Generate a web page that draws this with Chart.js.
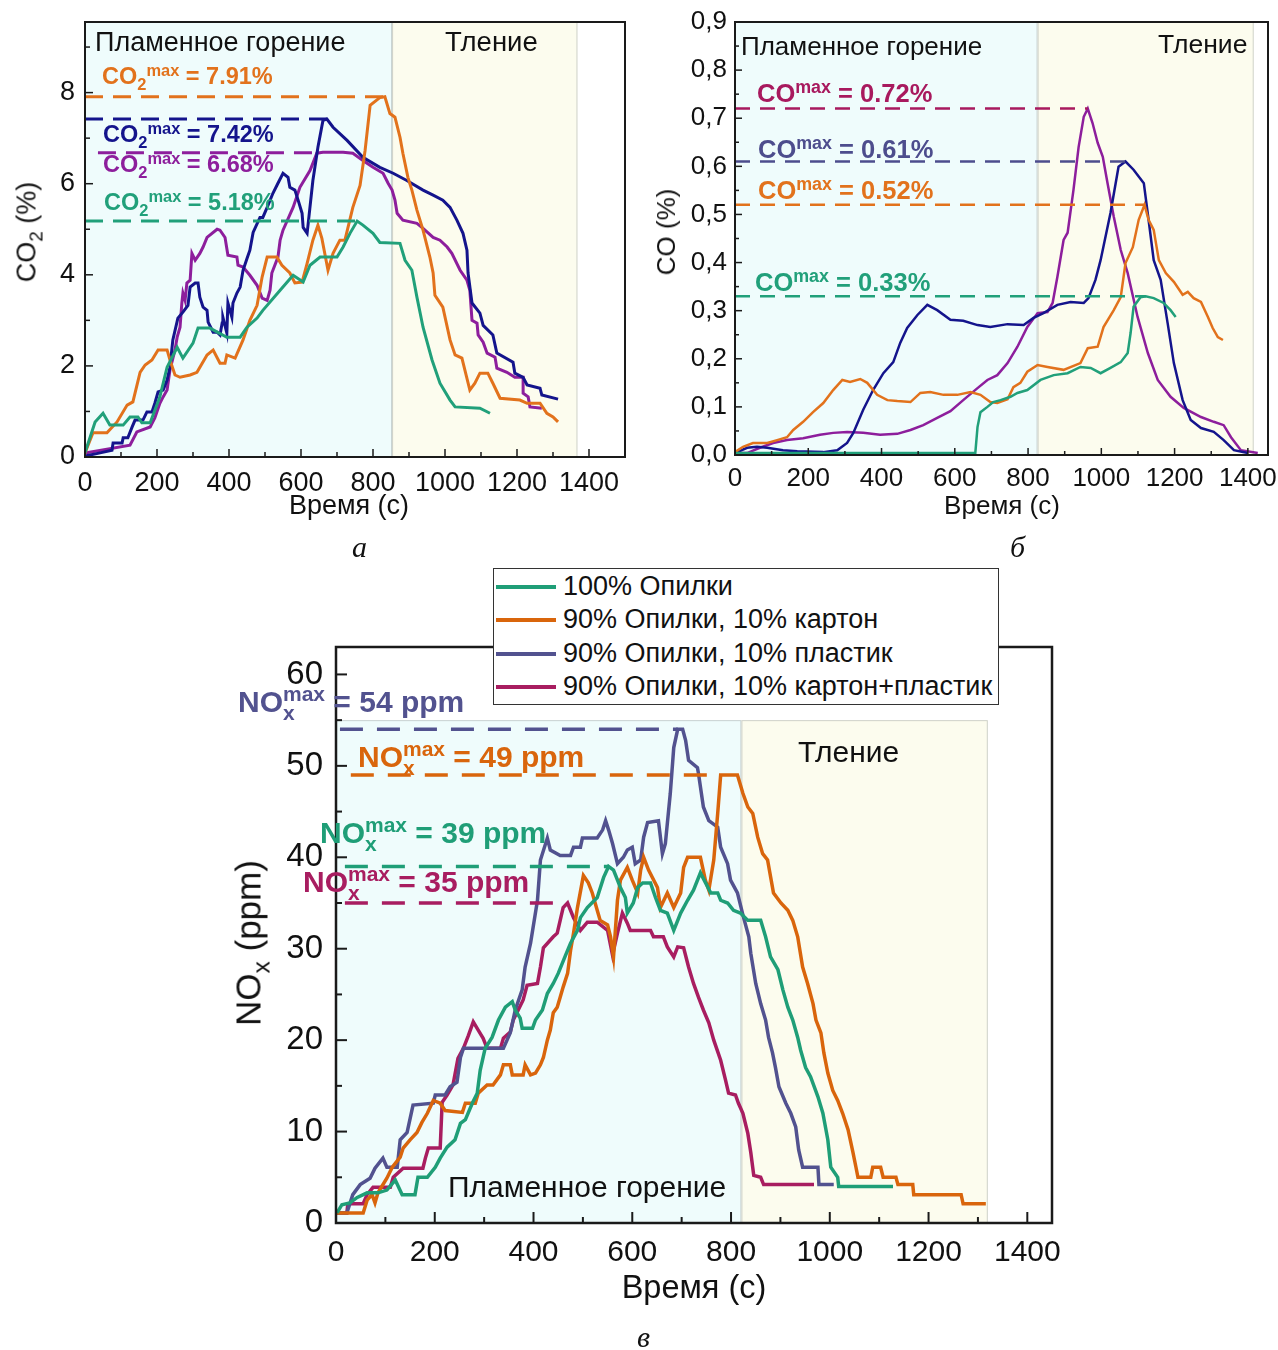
<!DOCTYPE html>
<html><head><meta charset="utf-8">
<script src="https://cdn.jsdelivr.net/npm/chart.js@4.4.1/dist/chart.umd.min.js"></script>
<style>
body{margin:0;background:#fff;width:1278px;height:1350px;position:relative;overflow:hidden;font-family:"Liberation Sans",Arial,sans-serif;}
canvas{position:absolute;}
.t{position:absolute;white-space:nowrap;}
.sp{position:relative;font-size:0.7em;}
</style></head><body>
<canvas id="ca" width="640" height="530" style="left:0;top:0"></canvas>
<canvas id="cb" width="628" height="530" style="left:650px;top:0"></canvas>
<canvas id="cc" width="1000" height="720" style="left:150px;top:560px"></canvas>
<script>
// ---------------- DATA ----------------
// Panel а: CO2 (%) vs time (s)
const aSawdust = [[0,0.09],[28,0.77],[50,0.96],[69,0.70],[106,0.70],[125,0.88],[147,0.88],[158,0.75],[181,0.75],[208,1.32],[228,1.97],[256,2.41],[272,2.17],[300,2.50],[314,2.83],[347,2.83],[394,2.63],[431,2.63],[450,2.85],[478,3.05],[494,3.22],[542,3.66],[578,3.99],[606,3.84],[625,4.21],[653,4.39],[700,4.39],[717,4.61],[736,4.91],[756,5.18],[772,5.09],[800,4.91],[819,4.71],[875,4.69],[889,4.32],[908,4.10],[922,3.51],[939,2.85],[964,2.13],[986,1.62],[1014,1.25],[1028,1.10],[1097,1.07],[1125,0.96]];
const aCardboard = [[0,0.09],[22,0.53],[61,0.53],[89,0.77],[117,1.14],[133,1.21],[153,1.86],[167,2.02],[186,2.13],[203,2.35],[228,2.35],[236,2.13],[250,1.80],[264,1.75],[292,1.80],[311,1.86],[339,2.24],[356,2.35],[375,2.06],[389,2.06],[394,2.24],[417,2.17],[439,2.57],[458,3.00],[478,3.33],[492,3.95],[506,4.39],[533,4.39],[547,4.21],[569,4.04],[583,3.82],[603,3.84],[617,4.25],[633,4.76],[647,5.09],[658,4.80],[675,4.10],[689,4.47],[708,4.76],[722,4.76],[744,5.48],[764,5.96],[778,6.73],[792,7.72],[819,7.89],[833,7.91],[847,7.54],[861,7.46],[875,7.02],[883,6.67],[897,6.14],[908,5.86],[922,5.42],[939,4.98],[958,4.39],[967,4.04],[972,3.55],[994,3.29],[1014,2.57],[1028,2.24],[1047,2.17],[1069,1.47],[1083,1.62],[1097,1.84],[1119,1.84],[1133,1.62],[1153,1.29],[1208,1.25],[1228,1.18],[1264,1.18],[1283,0.96],[1300,0.88],[1314,0.77]];
const aPlastic = [[0,0.02],[42,0.09],[75,0.15],[78,0.31],[103,0.31],[106,0.42],[119,0.42],[131,0.66],[139,0.81],[161,0.81],[172,0.99],[186,0.99],[194,1.18],[203,1.43],[217,1.47],[228,1.69],[236,1.97],[244,2.57],[258,3.05],[272,3.18],[286,3.33],[292,3.73],[306,3.82],[314,3.82],[319,3.51],[328,3.29],[339,3.22],[342,2.96],[356,2.74],[367,2.74],[375,2.68],[381,2.94],[383,3.07],[394,2.72],[397,3.38],[408,3.07],[411,3.38],[422,3.60],[431,3.73],[439,4.10],[450,4.36],[458,4.54],[467,4.93],[486,5.26],[494,5.26],[506,5.48],[522,5.79],[536,6.01],[550,6.23],[564,6.14],[569,5.92],[583,5.86],[592,5.64],[603,5.35],[606,5.04],[617,4.91],[633,6.07],[647,6.80],[661,7.39],[672,7.42],[689,7.24],[728,6.95],[772,6.58],[819,6.36],[856,6.23],[894,6.07],[939,5.86],[967,5.75],[994,5.64],[1014,5.48],[1033,5.20],[1050,4.91],[1061,4.54],[1064,4.04],[1075,3.38],[1097,3.16],[1106,2.89],[1133,2.68],[1144,2.28],[1189,2.08],[1194,1.84],[1217,1.75],[1228,1.58],[1264,1.51],[1269,1.36],[1314,1.27]];
const aMixed = [[0,0.09],[125,0.26],[144,0.55],[181,0.66],[194,0.86],[208,1.18],[217,1.32],[228,1.47],[236,1.91],[250,2.35],[256,2.63],[264,2.85],[269,3.38],[272,3.60],[278,3.44],[283,3.82],[292,3.88],[297,4.47],[306,4.32],[319,4.47],[328,4.61],[339,4.82],[367,5.00],[375,4.98],[389,4.82],[397,4.43],[422,4.39],[425,4.21],[439,4.17],[458,3.99],[478,3.77],[492,3.49],[506,3.44],[514,3.66],[519,4.04],[536,4.39],[542,4.76],[550,4.98],[578,5.48],[597,5.92],[625,6.29],[644,6.67],[661,6.69],[717,6.69],[744,6.67],[772,6.51],[800,6.36],[828,6.23],[842,6.01],[853,5.86],[861,5.64],[867,5.35],[883,5.20],[922,5.13],[939,5.02],[967,4.82],[986,4.76],[1006,4.61],[1019,4.47],[1042,4.10],[1061,3.88],[1069,3.66],[1075,3.00],[1089,2.94],[1092,2.68],[1106,2.52],[1117,2.28],[1139,2.19],[1144,1.95],[1172,1.86],[1194,1.75],[1217,1.75],[1217,1.40],[1231,1.32],[1236,1.10],[1269,1.07]];
const aMaxValues = [7.91, 7.42, 6.68, 5.18];          // cardboard, plastic, mixed, sawdust
const aMaxStart  = [0, 0, 36, 0];
const aMaxEnd    = [833, 672, 647, 756];
const aPhases    = [[0, 853], [853, 1368]];           // flaming, smouldering (s)
const aXTicks = [0,200,400,600,800,1000,1200,1400];
const aXLabels = ['0','200','400','600','800','1000','1200','1400'];
const aYTicks = [0,2,4,6,8];
const aYLabels = ['0','2','4','6','8'];

// Panel б: CO (%) vs time (s)
const bSawdust = [[0,0.004],[656,0.004],[662,0.058],[670,0.089],[689,0.100],[705,0.110],[725,0.114],[752,0.121],[771,0.129],[798,0.135],[834,0.156],[870,0.166],[908,0.170],[943,0.183],[971,0.181],[998,0.170],[1025,0.181],[1053,0.193],[1072,0.212],[1080,0.254],[1088,0.308],[1107,0.328],[1121,0.330],[1143,0.326],[1170,0.316],[1189,0.301],[1203,0.287]];
const bCardboard = [[0,0.006],[22,0.017],[49,0.025],[88,0.025],[115,0.031],[142,0.037],[159,0.052],[186,0.069],[213,0.089],[241,0.108],[268,0.135],[293,0.156],[314,0.152],[342,0.158],[361,0.150],[388,0.125],[416,0.114],[443,0.112],[479,0.110],[506,0.129],[533,0.131],[569,0.125],[607,0.125],[643,0.131],[670,0.125],[697,0.110],[716,0.108],[744,0.116],[760,0.141],[779,0.150],[798,0.173],[826,0.187],[853,0.183],[897,0.177],[943,0.191],[963,0.222],[990,0.225],[1006,0.266],[1034,0.301],[1053,0.328],[1066,0.399],[1086,0.432],[1102,0.489],[1118,0.520],[1129,0.489],[1143,0.468],[1157,0.405],[1176,0.378],[1198,0.360],[1222,0.333],[1236,0.339],[1252,0.326],[1272,0.318],[1291,0.287],[1304,0.264],[1318,0.245],[1332,0.239]];
const bPlastic = [[0,0.004],[33,0.015],[60,0.017],[88,0.015],[131,0.010],[170,0.008],[241,0.006],[279,0.010],[306,0.025],[323,0.046],[350,0.094],[377,0.135],[405,0.170],[432,0.193],[451,0.233],[470,0.264],[498,0.291],[525,0.312],[552,0.301],[588,0.281],[623,0.279],[662,0.270],[697,0.266],[744,0.272],[788,0.270],[815,0.285],[842,0.295],[880,0.312],[916,0.318],[952,0.316],[965,0.326],[984,0.364],[998,0.405],[1025,0.503],[1047,0.599],[1066,0.610],[1088,0.593],[1116,0.565],[1129,0.489],[1143,0.405],[1162,0.364],[1181,0.274],[1198,0.191],[1222,0.114],[1244,0.073],[1272,0.056],[1307,0.048],[1334,0.031],[1362,0.010],[1400,0.004]];
const bMixed = [[0,0.004],[33,0.004],[68,0.015],[104,0.025],[142,0.031],[186,0.035],[232,0.042],[268,0.046],[306,0.048],[350,0.046],[396,0.042],[443,0.044],[479,0.052],[514,0.062],[552,0.077],[588,0.091],[623,0.114],[662,0.139],[689,0.156],[716,0.166],[744,0.191],[771,0.225],[798,0.266],[826,0.295],[853,0.297],[867,0.316],[880,0.370],[897,0.447],[908,0.462],[924,0.551],[938,0.640],[952,0.703],[963,0.720],[976,0.690],[990,0.649],[1004,0.620],[1017,0.565],[1034,0.495],[1053,0.426],[1072,0.378],[1099,0.287],[1127,0.212],[1154,0.156],[1189,0.121],[1225,0.098],[1272,0.079],[1307,0.069],[1334,0.062],[1354,0.037],[1381,0.010],[1427,0.004]];
const bMaxValues = [0.72, 0.61, 0.52, 0.33];          // mixed, plastic, cardboard, sawdust
const bMaxEnd    = [963, 1066, 1118, 1121];
const bPhases    = [[0, 826], [826, 1416]];
const bXTicks = [0,200,400,600,800,1000,1200,1400];
const bXLabels = ['0','200','400','600','800','1000','1200','1400'];
const bYTicks = [0,0.1,0.2,0.3,0.4,0.5,0.6,0.7,0.8,0.9];
const bYLabels = ['0,0','0,1','0,2','0,3','0,4','0,5','0,6','0,7','0,8','0,9'];

// Panel в: NOx (ppm) vs time (s)
const cSawdust = [[2,1.1],[12,2.0],[28,2.2],[43,2.8],[63,3.3],[85,3.3],[103,3.6],[120,4.7],[134,3.1],[160,3.1],[166,5.0],[185,5.0],[201,6.1],[211,7.1],[225,8.3],[241,9.1],[252,10.9],[262,11.3],[276,13.1],[286,14.2],[292,16.7],[302,19.1],[316,20.3],[329,22.2],[343,23.6],[357,24.2],[363,23.3],[373,22.4],[377,21.3],[398,21.3],[404,22.2],[418,23.3],[428,25.1],[440,26.2],[450,27.3],[465,29.3],[475,30.6],[489,32.0],[495,33.4],[509,34.5],[529,35.6],[542,37.8],[552,39.0],[562,38.6],[576,36.7],[586,35.6],[590,33.9],[602,35.0],[611,36.7],[621,37.2],[637,37.2],[647,35.6],[657,34.2],[671,33.9],[684,32.0],[698,33.9],[712,35.3],[724,36.4],[738,38.3],[759,36.1],[773,36.1],[779,35.3],[793,35.0],[805,34.2],[819,33.9],[834,33.1],[860,33.1],[870,31.3],[880,29.1],[895,27.7],[905,25.5],[915,23.6],[925,22.2],[935,20.3],[941,18.9],[951,17.0],[961,16.0],[976,13.8],[986,12.0],[996,9.1],[1002,6.1],[1016,5.0],[1018,4.0],[1128,4.0]];
const cCardboard = [[2,1.1],[55,1.1],[63,2.5],[73,3.1],[79,2.2],[85,3.3],[103,4.9],[114,6.1],[130,7.2],[136,8.2],[150,9.1],[164,9.9],[174,11.0],[185,12.0],[197,13.4],[211,13.1],[221,12.3],[256,12.1],[262,13.1],[282,13.1],[288,14.2],[306,15.1],[318,15.1],[333,16.2],[339,17.3],[353,17.3],[357,16.2],[379,16.2],[383,17.3],[394,16.2],[404,16.4],[414,17.3],[420,18.1],[428,20.0],[434,21.1],[440,23.0],[448,23.6],[454,24.7],[460,25.8],[469,27.3],[475,29.8],[481,31.7],[489,34.5],[501,38.0],[511,37.2],[519,36.1],[529,34.2],[535,33.1],[550,32.6],[556,31.3],[562,29.1],[570,35.3],[576,37.5],[590,38.9],[600,37.5],[611,36.1],[617,38.6],[623,40.0],[633,38.6],[651,36.7],[657,34.5],[671,36.1],[684,34.5],[698,36.1],[704,38.9],[712,40.0],[738,40.0],[748,37.5],[755,36.4],[765,39.7],[773,44.8],[779,49.0],[813,49.0],[824,47.0],[834,45.5],[844,44.8],[854,42.2],[864,40.4],[874,39.7],[886,36.1],[901,35.0],[915,34.2],[925,33.1],[935,31.3],[945,28.0],[955,26.2],[966,24.0],[972,22.2],[982,20.8],[988,18.6],[996,16.4],[1006,14.5],[1016,13.4],[1026,12.0],[1037,10.2],[1047,7.7],[1053,6.1],[1057,5.0],[1083,5.0],[1087,6.1],[1103,6.1],[1108,5.0],[1134,5.0],[1138,4.2],[1168,4.2],[1170,3.1],[1266,3.1],[1270,2.1],[1316,2.1]];
const cPlastic = [[2,1.1],[22,1.1],[34,3.1],[49,4.2],[69,4.9],[79,6.0],[95,7.1],[103,6.1],[124,6.1],[130,9.1],[144,9.9],[156,12.9],[197,13.1],[201,14.0],[221,14.0],[231,14.9],[245,15.4],[252,18.1],[258,19.1],[339,19.1],[353,20.8],[363,23.3],[377,25.5],[383,28.0],[394,30.6],[408,35.3],[414,39.7],[428,42.1],[434,40.8],[454,40.2],[475,40.2],[481,41.1],[495,41.1],[499,42.1],[529,42.1],[540,43.0],[546,44.0],[552,43.0],[560,41.5],[570,39.3],[582,40.0],[590,40.8],[600,41.1],[606,39.3],[617,39.7],[623,42.2],[631,43.8],[653,44.0],[661,40.4],[667,41.5],[677,47.0],[684,52.0],[692,54.0],[702,54.0],[708,52.8],[714,50.6],[732,49.8],[734,49.2],[744,45.5],[755,44.0],[773,43.3],[779,41.1],[793,39.3],[799,37.5],[813,36.1],[824,33.7],[836,31.3],[840,29.5],[850,26.2],[860,24.0],[870,22.2],[876,20.3],[884,18.6],[890,17.0],[897,14.9],[911,13.1],[921,12.0],[931,10.5],[937,8.0],[945,6.1],[976,6.1],[978,4.2],[1008,4.2]];
const cMixed = [[2,1.1],[22,1.1],[24,2.1],[55,2.1],[63,3.1],[75,3.9],[110,3.9],[116,5.0],[136,6.0],[176,6.0],[181,7.1],[187,8.2],[211,8.2],[215,13.2],[225,14.0],[237,15.1],[247,18.0],[258,19.1],[268,20.5],[278,22.0],[288,21.1],[298,20.2],[306,19.1],[333,19.1],[339,20.2],[353,20.9],[359,22.2],[369,23.3],[379,24.4],[387,26.0],[408,26.2],[414,28.0],[420,30.1],[440,31.3],[448,31.7],[454,33.1],[460,34.5],[469,35.0],[481,33.4],[495,32.0],[509,32.9],[529,32.9],[550,32.0],[560,29.3],[570,31.7],[580,33.9],[590,32.8],[596,32.0],[637,32.0],[643,31.3],[663,31.3],[671,30.2],[684,29.1],[692,30.2],[704,30.1],[714,28.0],[724,26.2],[734,24.7],[744,23.3],[755,21.9],[765,20.0],[779,17.8],[789,15.6],[795,14.2],[809,14.0],[815,13.1],[824,12.0],[834,9.8],[840,7.7],[846,5.2],[860,5.0],[866,4.2],[968,4.2]];
const cMaxValues = [54, 49, 39, 35];                  // plastic, cardboard, sawdust, mixed
const cMaxStart  = [8, 30, 18, 18];
const cMaxEnd    = [692, 779, 552, 469];
const cPhases    = [[0, 821], [821, 1320]];
const cPhaseTop  = 55;
const cXTicks = [0,200,400,600,800,1000,1200,1400];
const cXLabels = ['0','200','400','600','800','1000','1200','1400'];
const cYTicks = [0,10,20,30,40,50,60];
const cYLabels = ['0','10','20','30','40','50','60'];
const legendLabels = ['100% Опилки','90% Опилки, 10% картон','90% Опилки, 10% пластик','90% Опилки, 10% картон+пластик'];

// ---------------- STYLE ----------------
const FONT = '"Liberation Sans", Arial, sans-serif';
const COL = {
  aGreen:'#21a07a', aOrange:'#e2721c', aNavy:'#14148c', aPurple:'#8d1e9c',
  bCrimson:'#a8195e', bSlate:'#4d4d8d',
  cGreen:'#1f9e77', cOrange:'#d9650c', cSlate:'#52528f', cCrimson:'#a81d60'
};
const CYAN = '#effcfc', YELL = '#fcfcee';

const pts = arr => arr.map(p => ({x:p[0], y:p[1]}));
const line = (arr, color, w) => ({data:pts(arr), borderColor:color, borderWidth:w, pointRadius:0, tension:0, fill:false});
const dash = (x0, x1, y, color, w, d) => ({data:[{x:x0,y:y},{x:x1,y:y}], borderColor:color, borderWidth:w, borderDash:d, pointRadius:0, fill:false});

function phasePlugin(phases, topVal){
  return {id:'phases', beforeDatasetsDraw(chart){
    const {ctx, chartArea:ca, scales:{x,y}} = chart;
    const yt = topVal == null ? ca.top : y.getPixelForValue(topVal);
    const cols = [CYAN, YELL];
    ctx.save();
    phases.forEach((ph,i)=>{
      const x0 = x.getPixelForValue(ph[0]), x1 = x.getPixelForValue(ph[1]);
      ctx.fillStyle = cols[i];
      ctx.fillRect(x0, yt, x1-x0, ca.bottom-yt);
      ctx.strokeStyle = 'rgba(120,130,130,0.35)'; ctx.lineWidth = 1;
      ctx.strokeRect(x0+0.5, yt+0.5, x1-x0-1, ca.bottom-yt-1);
    });
    ctx.restore();
  }};
}
function framePlugin(o){
  return {id:'frame', afterDatasetsDraw(chart){
    const {ctx, chartArea:ca, scales:{x,y}} = chart;
    ctx.save();
    ctx.strokeStyle = '#1a1a1a'; ctx.lineWidth = o.tw; ctx.lineCap='butt';
    for (let v = 0; v <= o.xLast + 1e-9; v += o.xMinor){
      const px = x.getPixelForValue(v);
      const maj = Math.abs(v/o.xMajor - Math.round(v/o.xMajor)) < 1e-6;
      const L = maj ? o.maj : o.min;
      ctx.beginPath(); ctx.moveTo(px, ca.bottom); ctx.lineTo(px, ca.bottom - L); ctx.stroke();
    }
    for (let v = 0; v <= o.yLast + 1e-9; v += o.yMinor){
      const py = y.getPixelForValue(v);
      const maj = Math.abs(v/o.yMajor - Math.round(v/o.yMajor)) < 1e-6;
      const L = maj ? o.maj : o.min;
      ctx.beginPath(); ctx.moveTo(ca.left, py); ctx.lineTo(ca.left + L, py); ctx.stroke();
    }
    ctx.lineWidth = o.lw;
    ctx.strokeRect(ca.left, ca.top, ca.right-ca.left, ca.bottom-ca.top);
    ctx.restore();
  }};
}
function makeScales(xmax, ymax, xt, xl, yt, yl, yw, xh, fsx, fsy, padx, pady){
  return {
    x:{type:'linear', min:0, max:xmax, grid:{display:false, drawTicks:false}, border:{display:false},
       afterBuildTicks:s=>{s.ticks = xt.map(v=>({value:v}));},
       afterFit:s=>{s.height = xh; s.paddingLeft = 0; s.paddingRight = 0;},
       ticks:{color:'#111', font:{family:FONT, size:fsx}, padding:padx, maxRotation:0, autoSkip:false,
              callback:(v,i)=> xl[i]}},
    y:{type:'linear', min:0, max:ymax, grid:{display:false, drawTicks:false}, border:{display:false},
       afterBuildTicks:s=>{s.ticks = yt.map(v=>({value:v}));},
       afterFit:s=>{s.width = yw; s.paddingTop = 0; s.paddingBottom = 0;},
       ticks:{color:'#111', font:{family:FONT, size:fsy}, padding:pady, autoSkip:false,
              callback:(v,i)=> yl[i]}}
  };
}
const baseOpts = (scales, pad) => ({responsive:false, animation:false, events:[],
  layout:{padding:pad}, plugins:{legend:{display:false}, tooltip:{enabled:false}}, scales});

// Panel а
new Chart(document.getElementById('ca'), {type:'line',
  data:{datasets:[
    dash(aMaxStart[0], aMaxEnd[0], aMaxValues[0], COL.aOrange, 3, [18,10]),
    dash(aMaxStart[1], aMaxEnd[1], aMaxValues[1], COL.aNavy, 3, [18,10]),
    dash(aMaxStart[2], aMaxEnd[2], aMaxValues[2], COL.aPurple, 3, [18,10]),
    dash(aMaxStart[3], aMaxEnd[3], aMaxValues[3], COL.aGreen, 3, [18,10]),
    line(aSawdust, COL.aGreen, 3),
    line(aCardboard, COL.aOrange, 3),
    line(aPlastic, COL.aNavy, 3),
    line(aMixed, COL.aPurple, 3)
  ]},
  options: baseOpts(makeScales(1500, 9.55, aXTicks, aXLabels, aYTicks, aYLabels, 85, 73, 27, 27, 10, 10), {top:22, right:15, left:0, bottom:0}),
  plugins:[phasePlugin(aPhases, null), framePlugin({xMajor:200, xMinor:100, xLast:1400, yMajor:2, yMinor:1, yLast:9, maj:8, min:5, tw:1.5, lw:2})]
});

// Panel б
new Chart(document.getElementById('cb'), {type:'line',
  data:{datasets:[
    dash(0, bMaxEnd[0], bMaxValues[0], COL.bCrimson, 2.5, [15,10]),
    dash(0, bMaxEnd[1], bMaxValues[1], COL.bSlate, 2.5, [15,10]),
    dash(0, bMaxEnd[2], bMaxValues[2], COL.aOrange, 2.5, [15,10]),
    dash(0, bMaxEnd[3], bMaxValues[3], COL.aGreen, 2.5, [15,10]),
    line(bSawdust, COL.aGreen, 2.5),
    line(bCardboard, COL.aOrange, 2.5),
    line(bPlastic, COL.aNavy, 2.5),
    line(bMixed, COL.aPurple, 2.5)
  ]},
  options: baseOpts(makeScales(1455, 0.9, bXTicks, bXLabels, bYTicks, bYLabels, 85, 75, 26, 26, 8, 8), {top:22, right:10, left:0, bottom:0}),
  plugins:[phasePlugin(bPhases, null), framePlugin({xMajor:200, xMinor:100, xLast:1400, yMajor:0.1, yMinor:0.05, yLast:0.9, maj:7, min:4, tw:1.5, lw:2})]
});

// Panel в
new Chart(document.getElementById('cc'), {type:'line',
  data:{datasets:[
    dash(cMaxStart[0], cMaxEnd[0], cMaxValues[0], COL.cSlate, 3.5, [23,14]),
    dash(cMaxStart[1], cMaxEnd[1], cMaxValues[1], COL.cOrange, 3.5, [23,14]),
    dash(cMaxStart[2], cMaxEnd[2], cMaxValues[2], COL.cGreen, 3.5, [23,14]),
    dash(cMaxStart[3], cMaxEnd[3], cMaxValues[3], COL.cCrimson, 3.5, [23,14]),
    line(cSawdust, COL.cGreen, 3.5),
    line(cCardboard, COL.cOrange, 3.5),
    line(cPlastic, COL.cSlate, 3.5),
    line(cMixed, COL.cCrimson, 3.5)
  ]},
  options: baseOpts(makeScales(1450, 63, cXTicks, cXLabels, cYTicks, cYLabels, 186, 57, 30, 33, 12, 13), {top:87, right:98, left:0, bottom:0}),
  plugins:[phasePlugin(cPhases, cPhaseTop), framePlugin({xMajor:200, xMinor:100, xLast:1400, yMajor:10, yMinor:5, yLast:60, maj:11, min:6, tw:2, lw:2.5})]
});

// ---------------- TEXT OVERLAYS ----------------
function txt(x, baseline, size, color, weight, html, extra){
  const d = document.createElement('div');
  d.className = 't';
  d.style.cssText = `left:${x}px;top:${(baseline - 0.8465*size).toFixed(1)}px;font-size:${size}px;line-height:${size}px;color:${color};font-weight:${weight};` + (extra||'');
  d.innerHTML = html;
  document.body.appendChild(d);
  return d;
}
function centered(cx, cy, size, html, rot, extra){
  const d = document.createElement('div');
  d.className = 't';
  d.style.cssText = `left:${cx}px;top:${cy}px;font-size:${size}px;line-height:${size}px;color:#111;transform:translate(-50%,-50%)${rot?' rotate(-90deg)':''};` + (extra||'');
  d.innerHTML = html;
  document.body.appendChild(d);
}
const SUB = t => `<span class="sp" style="top:0.38em">${t}</span>`;
const SUP = t => `<span class="sp" style="top:-0.5em">${t}</span>`;
const STACK = (sub, sup) => `<span class="sp" style="display:inline-block;width:0;top:0.38em">${sub}</span>${SUP(sup)}`;
const fmtPct = v => v.toFixed(2) + '%';

// panel а
txt(95, 52, 27, '#111', 400, 'Пламенное горение');
txt(445, 51, 27.5, '#111', 400, 'Тление');
const aLabelCols = [COL.aOrange, COL.aNavy, COL.aPurple, COL.aGreen];
const aLabelPos = [[102,85],[103,143],[103,173],[104,211]];
aMaxValues.forEach((v,i)=> txt(aLabelPos[i][0], aLabelPos[i][1], 23.5, aLabelCols[i], 700, 'CO' + SUB('2') + SUP('max') + ' = ' + fmtPct(v)));
centered(349, 505, 27, 'Время (с)');
centered(28, 232, 27, 'CO' + SUB('2') + ' (%)', true);
txt(352, 557, 30, '#111', 400, 'а', 'font-family:"Liberation Serif",serif;font-style:italic;');

// panel б
txt(741, 55, 26, '#111', 400, 'Пламенное горение');
txt(1158, 53, 26.5, '#111', 400, 'Тление');
const bLabelCols = [COL.bCrimson, COL.bSlate, COL.aOrange, COL.aGreen];
const bLabelPos = [[757,103],[758,159],[758,200],[755,292]];
bMaxValues.forEach((v,i)=> txt(bLabelPos[i][0], bLabelPos[i][1], 25.5, bLabelCols[i], 700, 'CO' + SUP('max') + ' = ' + fmtPct(v)));
centered(1002, 505, 26, 'Время (с)');
centered(666, 232, 26, 'CO (%)', true);
txt(1010, 557, 30, '#111', 400, 'б', 'font-family:"Liberation Serif",serif;font-style:italic;');

// panel в
const cLabelCols = [COL.cSlate, COL.cOrange, COL.cGreen, COL.cCrimson];
const cLabelPos = [[238,712],[358,767],[320,843],[303,892]];
cMaxValues.forEach((v,i)=> txt(cLabelPos[i][0], cLabelPos[i][1], 30, cLabelCols[i], 700, 'NO' + STACK('x','max') + ' = ' + v + ' ppm'));
txt(798, 762, 30, '#111', 400, 'Тление');
txt(448, 1197, 30, '#111', 400, 'Пламенное горение');
centered(694, 1287, 32.5, 'Время (с)');
centered(250, 943, 35, 'NO' + SUB('x') + ' (ppm)', true);
txt(637, 1347, 30, '#111', 400, 'в', 'font-family:"Liberation Serif",serif;font-style:italic;');

// legend
const lg = document.createElement('div');
lg.style.cssText = 'position:absolute;left:493px;top:568px;width:506px;height:137px;border:1.5px solid #333;background:#fff;box-sizing:border-box;';
document.body.appendChild(lg);
const legCols = [COL.cGreen, COL.cOrange, COL.cSlate, COL.cCrimson];
const legY = [587, 620, 654, 687];
legendLabels.forEach((s,i)=>{
  const ln = document.createElement('div');
  ln.style.cssText = `position:absolute;left:496px;top:${legY[i]-2}px;width:60px;height:4px;background:${legCols[i]};`;
  document.body.appendChild(ln);
  txt(563, legY[i] + 9, 27, '#111', 400, s);
});
</script>
</body></html>
